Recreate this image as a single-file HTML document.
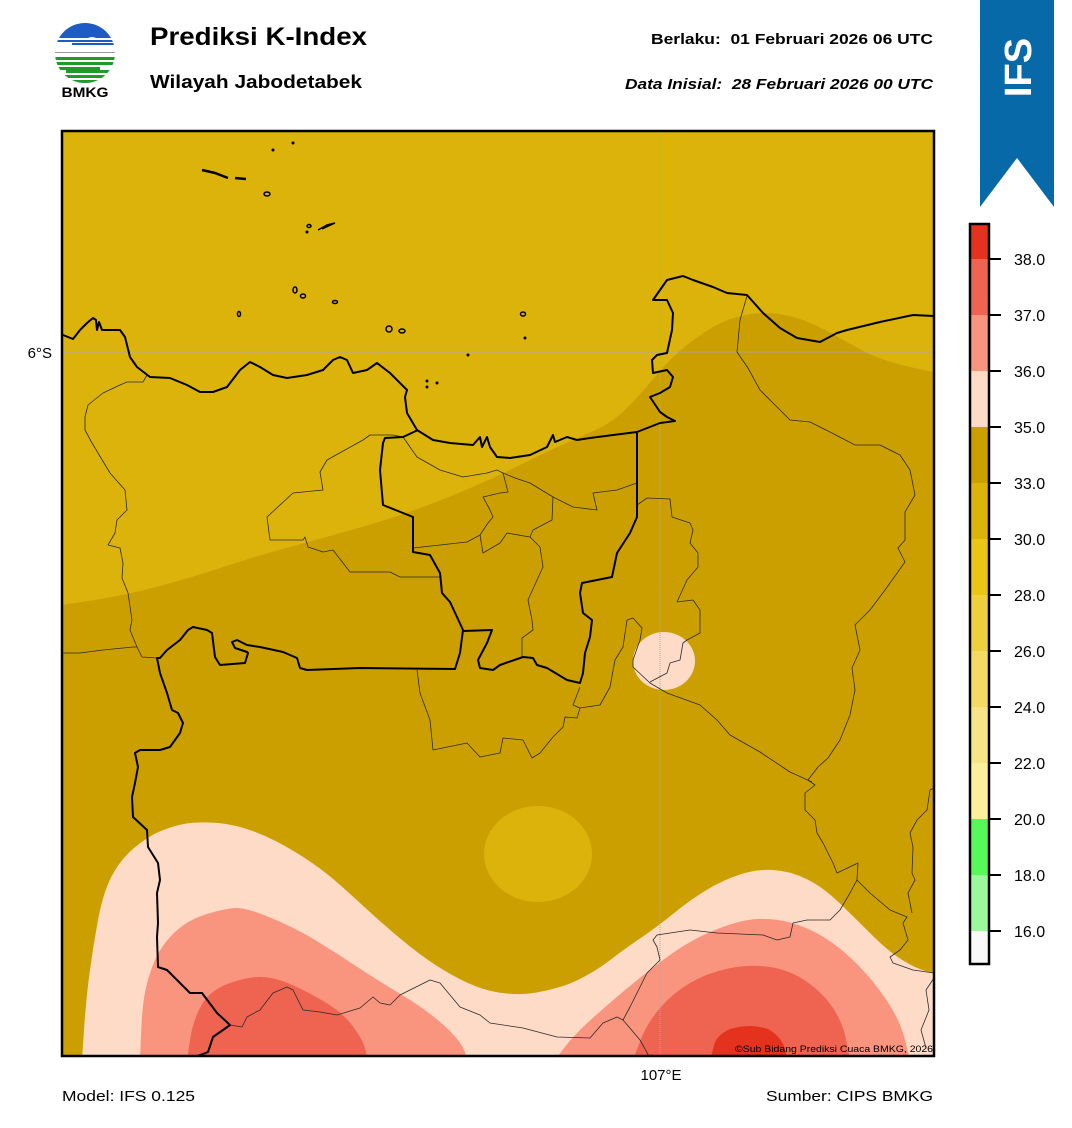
<!DOCTYPE html>
<html><head><meta charset="utf-8"><style>
html,body{margin:0;padding:0;background:#fff;}
svg{display:block;}
text{font-family:"Liberation Sans",Arial,sans-serif;}
</style></head><body>
<svg width="1072" height="1128" viewBox="0 0 1072 1128" xmlns="http://www.w3.org/2000/svg">
<defs>
<clipPath id="map"><rect x="62" y="131" width="872" height="925"/></clipPath>
<clipPath id="logo"><circle cx="85" cy="53" r="30"/></clipPath>
</defs>
<rect width="1072" height="1128" fill="#fff"/>

<!-- Logo -->
<g clip-path="url(#logo)">
<rect x="50" y="20" width="70" height="14" fill="#1f5bc4"/>
<path d="M50,34 H80 Q84,32 88,34 H120 V38 H96 Q92,36 88,38 H50Z" fill="#1f5bc4"/>
<rect x="50" y="40" width="70" height="2" fill="#1f5bc4"/>
<rect x="72" y="43" width="48" height="2" fill="#1f5bc4"/>
<rect x="50" y="52" width="70" height="1" fill="#9a9a9a"/>
<rect x="50" y="57" width="70" height="3" fill="#1e9b2a"/>
<rect x="50" y="62" width="70" height="3" fill="#1e9b2a"/>
<rect x="50" y="67" width="50" height="3" fill="#1e9b2a"/>
<rect x="66" y="70" width="54" height="3" fill="#1e9b2a"/>
<rect x="50" y="75" width="70" height="3" fill="#1e9b2a"/>
<rect x="50" y="80" width="70" height="5" fill="#1e9b2a"/>
</g>
<text x="85" y="97" font-size="14" font-weight="bold" text-anchor="middle" textLength="47" lengthAdjust="spacingAndGlyphs">BMKG</text>

<text x="150" y="45" font-size="25" font-weight="bold" textLength="217" lengthAdjust="spacingAndGlyphs">Prediksi K-Index</text>
<text x="150" y="88" font-size="18" font-weight="bold" textLength="212" lengthAdjust="spacingAndGlyphs">Wilayah Jabodetabek</text>
<text x="933" y="44" font-size="14.5" font-weight="bold" text-anchor="end" textLength="282" lengthAdjust="spacingAndGlyphs" xml:space="preserve">Berlaku:  01 Februari 2026 06 UTC</text>
<text x="933" y="89" font-size="14.5" font-weight="bold" font-style="italic" text-anchor="end" textLength="308" lengthAdjust="spacingAndGlyphs" xml:space="preserve">Data Inisial:  28 Februari 2026 00 UTC</text>

<!-- IFS banner -->
<polygon points="980,0 1054,0 1054,207 1017,158 980,207" fill="#0769a8"/>
<text transform="translate(1031,67.5) rotate(-90)" font-size="38" font-weight="bold" fill="#fff" text-anchor="middle">IFS</text>

<!-- Map -->
<g clip-path="url(#map)">
<rect x="62" y="131" width="872" height="925" fill="#cc9f00"/>
<path d="M62,131 H934 V372 L917,368.5 Q900,365 885,360 Q870,355 855,346.5 Q840,338 825,330 Q810,322 795,317.5 Q780,313 765,313 Q750,313 735,317.5 Q720,322 705,332 Q690,342 678.5,352 Q667,362 653.5,378.5 Q640,395 626.5,408.5 Q613,422 596.5,429.5 Q580,437 565,443.5 Q550,450 525,462.5 Q500,475 475,486 Q450,497 421.5,507.5 Q393,518 360,527.5 Q327,537 293.5,546 Q260,555 226.5,566 Q193,577 160,586 Q127,595 94.5,600 L62,605 Z" fill="#dbb30b"/>
<ellipse cx="538" cy="854" rx="54" ry="48" fill="#dbb30b"/>
<path d="M82,1060 L84,1030 Q86,1000 89.5,973.5 Q93,947 98,920 Q103,893 111.5,876.5 Q120,860 133.5,848.5 Q147,837 158.5,832 Q170,827 181.5,824.5 Q193,822 210,822.5 Q227,823 243.5,828 Q260,833 276.5,841.5 Q293,850 310,861.5 Q327,873 343.5,888 Q360,903 376.5,918 Q393,933 410,946.5 Q427,960 443.5,970 Q460,980 475,986 Q490,992 506.5,993.5 Q523,995 536.5,992.5 Q550,990 561.5,986.5 Q573,983 586.5,975.5 Q600,968 611.5,959 Q623,950 640,938.5 Q657,927 673.5,913.5 Q690,900 706.5,890 Q723,880 740,874.5 Q757,869 773.5,870 Q790,871 806.5,879 Q823,887 840,903.5 Q857,920 873.5,936.5 Q890,953 906.5,962.5 Q923,972 936,973 L936,1060 Z" fill="#fddbc7"/>
<path d="M140,1060 L141,1035 Q142,1010 144.5,995 Q147,980 153.5,963.5 Q160,947 173.5,933.5 Q187,920 207,914 Q227,908 237,908 Q247,908 270,917.5 Q293,927 310,937 Q327,947 352,963.5 Q377,980 402,995 Q427,1010 443.5,1025 Q460,1040 464,1050 L468,1060 Z" fill="#f9947f"/>
<path d="M555,1060 L562.5,1050 Q570,1040 580,1030 Q590,1020 615,998.5 Q640,977 665,958.5 Q690,940 715,930 Q740,920 756.5,919 Q773,918 790,922.5 Q807,927 823.5,937 Q840,947 856.5,963.5 Q873,980 886.5,1000 Q900,1020 905,1040 L910,1060 Z" fill="#f9947f"/>
<path d="M187,1060 L190,1040 Q193,1020 201.5,1005 Q210,990 230,983 Q250,976 263.5,977 Q277,978 293.5,985.5 Q310,993 326.5,1003 Q343,1013 353,1026.5 Q363,1040 365.5,1050 L368,1060 Z" fill="#ef6451"/>
<path d="M633,1060 L640,1041.5 Q647,1023 660,1008 Q673,993 690,983 Q707,973 728.5,968.5 Q750,964 770,967 Q790,970 806.5,981.5 Q823,993 833,1008 Q843,1023 846.5,1041.5 L850,1060 Z" fill="#ef6451"/>
<path d="M710,1060 L715,1042 Q719,1034 730,1029 Q750,1023 768,1029 Q780,1036 784,1046 L788,1060 Z" fill="#e5321f"/>
<ellipse cx="664" cy="661" rx="31" ry="29" fill="#fddbc7"/>

<!-- grid -->
<line x1="660" y1="131" x2="660" y2="1056" stroke="#aaa" stroke-width="1" stroke-dasharray="1,1"/>
<line x1="62" y1="352" x2="934" y2="352" stroke="#aaa" stroke-width="1" stroke-dasharray="1,1"/>

<!-- thin boundaries -->
<g fill="none" stroke="#2a2a2a" stroke-width="0.8" stroke-linejoin="round">
<path d="M147,375 L143,382 L127,382 L120,385 L103,393 L88,405 L85,417 L85,430 L92,443 L110,473 L125,490 L127,510 L117,520 L115,533 L108,545 L120,548 L123,563 L122,578 L128,593 L132,620 L130,630 L137,647 L142,657 L157,658"/>
<path d="M62,653 L80,653 L103,650 L133,647 L137,647"/>
<path d="M403,437 L393,435 L370,435 L363,440 L327,460 L320,472 L323,490 L293,493 L267,517 L270,540 L303,540 L305,537 L308,547 L323,552 L333,550 L350,572 L390,572 L400,577 L440,577"/>
<path d="M403,437 L417,457 L440,470 L463,477 L487,473 L497,470 L503,473 L508,492 L500,493 L483,497 L490,510 L493,517 L488,523 L480,535 L467,542 L413,548"/>
<path d="M480,535 L483,553 L500,543 L507,533 L530,537 L540,547 L543,567 L537,580 L528,600 L532,620 L533,630 L522,638 L522,657"/>
<path d="M503,473 L515,478 L530,483 L553,497 L573,507 L597,510 L593,493 L617,490 L637,483"/>
<path d="M553,497 L552,520 L533,530 L530,537"/>
<path d="M417,670 L420,693 L430,720 L433,750 L467,743 L480,757 L500,753 L503,738 L523,740 L532,758 L540,753 L553,737 L563,727 L565,717 L577,718 L580,708 L573,705 L580,687"/>
<path d="M580,708 L600,705 L610,687 L615,660 L623,647 L627,620 L633,618 L642,628 L640,640 L633,660 L633,667 L650,683 L667,693 L700,705 L717,720 L730,735 L760,752 L790,772 L812,782"/>
<path d="M637,505 L647,498 L670,499 L672,517 L690,523 L693,530 L690,543 L698,553 L698,567 L687,580 L677,602 L693,600 L700,610 L700,633 L687,640 L683,643 L680,660 L670,663 L667,673 L650,682"/>
<path d="M747,296 L740,320 L737,352 L748,368 L760,390 L775,405 L790,420 L810,422 L830,432 L855,445 L880,445 L900,455 L910,470 L915,495 L905,512 L905,540 L898,548 L905,562 L885,590 L870,610 L855,625 L860,650 L852,668 L855,690 L850,715 L840,740 L828,758 L818,767 L808,780 L815,785 L805,793 L805,810 L815,820 L817,833 L823,843 L833,863 L837,873 L858,863 L857,880 L850,893 L840,910 L830,920 L807,920 L793,923 L790,937 L777,940 L763,935 L717,933 L690,930 L657,935 L653,940 L657,947 L660,960 L647,973 L630,1007 L623,1020"/>
<path d="M857,880 L870,893 L890,910 L907,917 L903,923 L908,940 L900,950 L890,957 L893,963 L913,970 L934,973"/>
<path d="M934,788 L930,790 L927,810 L917,820 L910,833 L913,847 L912,873 L915,880 L908,893 L912,913"/>
<path d="M230,1025 L242,1027 L247,1017 L260,1010 L273,993 L287,987 L293,990 L303,1010 L320,1012 L337,1015 L360,1008 L373,997 L380,1003 L390,1005 L400,995 L430,980 L440,983 L460,1007 L480,1015 L490,1023 L523,1028 L557,1037 L590,1038 L603,1023 L617,1017 L623,1020 L640,1040 L650,1058"/>
<path d="M934,978 L926,990 L929,1010 L921,1030 L926,1048"/>
</g>

<!-- thick boundaries & coast -->
<g fill="none" stroke="#000" stroke-width="2" stroke-linejoin="round">
<path d="M63,335 L73,339 L80,330 L87,323 L93,318 L96,320 L97,330 L99,322 L102,330 L107,330 L120,330 L125,337 L130,357 L137,367 L150,377 L170,378 L187,385 L200,392 L213,392 L227,387 L240,370 L250,362 L260,367 L273,375 L287,378 L307,375 L323,370 L333,360 L340,357 L347,360 L353,373 L367,370 L377,363 L390,373 L407,390 L405,397 L407,413 L417,430 L433,440 L450,443 L473,445 L480,437 L482,447 L487,437 L490,447 L497,457 L510,458 L530,455 L547,447 L553,435 L555,442 L567,437 L577,440 L590,438 L613,435 L637,432 L660,423 L675,421 L667,417 L660,412 L650,397 L660,393 L670,387 L673,377 L667,370 L653,373 L652,360 L657,355 L667,353 L672,330 L673,313 L667,300 L653,300 L660,290 L667,280 L683,276 L693,280 L713,287 L727,293 L747,295 L763,313 L780,328 L797,338 L820,342 L837,333 L847,330 L880,322 L913,315 L934,316"/>
<path d="M418,430 L403,437 L385,438 L383,443 L380,470 L383,505 L413,517 L413,530 L413,552 L430,555 L440,573 L442,593 L450,602 L457,617 L463,630 L460,653 L455,669 L360,668 L307,670 L300,668 L297,658 L283,652 L260,647 L247,645 L237,640 L232,642 L235,648 L247,652 L248,653 L245,663 L220,665 L215,657 L212,633 L207,630 L193,627 L188,630 L180,640 L167,650 L160,658 L157,658 L160,673 L167,693 L172,710 L178,713 L183,723 L180,733 L170,747 L160,750 L140,750 L135,753 L138,767 L135,783 L132,797 L133,817 L147,830 L148,847 L158,863 L160,880 L157,893 L158,923 L157,937 L158,967 L167,970 L190,993 L202,993 L217,1013 L230,1025 L223,1030 L213,1037 L208,1052 L195,1057"/>
<path d="M463,631 L492,630 L487,643 L478,660 L480,668 L493,670 L500,665 L523,657 L533,658 L537,665 L547,668 L567,680 L580,683 L583,673 L585,653 L590,637 L592,620 L583,613 L580,593 L582,583 L612,577 L617,553 L630,533 L637,517 L637,433"/>
</g>
<!-- islands -->
<g fill="none" stroke="#000" stroke-width="1.5">
<path d="M202,170 L215,173 L228,178" stroke-width="2.5"/>
<path d="M235,178 L246,179" stroke-width="2.5"/>
<ellipse cx="267" cy="194" rx="3" ry="2"/>
<ellipse cx="309" cy="226" rx="2" ry="1.5"/>
<path d="M318,230 L327,225 L335,223 L322,229"/>
<ellipse cx="295" cy="290" rx="2" ry="3"/>
<ellipse cx="303" cy="296" rx="2.5" ry="2"/>
<ellipse cx="335" cy="302" rx="2.5" ry="1.5"/>
<ellipse cx="239" cy="314" rx="1.5" ry="2.5"/>
<ellipse cx="389" cy="329" rx="3" ry="3"/>
<ellipse cx="402" cy="331" rx="3" ry="2"/>
<ellipse cx="523" cy="314" rx="2.5" ry="2"/>
</g>
<g fill="#000">
<circle cx="293" cy="143" r="1.5"/>
<circle cx="273" cy="150" r="1.5"/>
<circle cx="307" cy="232" r="1.5"/>
<circle cx="468" cy="355" r="1.5"/>
<circle cx="427" cy="381" r="1.5"/>
<circle cx="427" cy="387" r="1.5"/>
<circle cx="437" cy="383" r="1.5"/>
<circle cx="525" cy="338" r="1.5"/>
</g>
<text x="933" y="1052" font-size="9" text-anchor="end" textLength="198" lengthAdjust="spacingAndGlyphs">©Sub Bidang Prediksi Cuaca BMKG, 2026</text>
</g>
<rect x="62" y="131" width="872" height="925" fill="none" stroke="#000" stroke-width="2.5"/>

<!-- axis labels -->
<text x="52" y="358" font-size="15" text-anchor="end">6°S</text>
<text x="661" y="1080" font-size="15" text-anchor="middle">107°E</text>
<text x="62" y="1101" font-size="15" textLength="133" lengthAdjust="spacingAndGlyphs">Model: IFS 0.125</text>
<text x="933" y="1101" font-size="15" text-anchor="end" textLength="167" lengthAdjust="spacingAndGlyphs">Sumber: CIPS BMKG</text>

<!-- Colorbar -->
<g>
<rect x="970" y="224" width="19" height="35" fill="#e5321f"/>
<rect x="970" y="259" width="19" height="56" fill="#ef6451"/>
<rect x="970" y="315" width="19" height="56" fill="#f9947f"/>
<rect x="970" y="371" width="19" height="56" fill="#fddbc7"/>
<rect x="970" y="427" width="19" height="56" fill="#cc9f00"/>
<rect x="970" y="483" width="19" height="56" fill="#dbb30b"/>
<rect x="970" y="539" width="19" height="56" fill="#e9c616"/>
<rect x="970" y="595" width="19" height="56" fill="#eed03f"/>
<rect x="970" y="651" width="19" height="56" fill="#f3da64"/>
<rect x="970" y="707" width="19" height="56" fill="#f7e487"/>
<rect x="970" y="763" width="19" height="56" fill="#fcef9b"/>
<rect x="970" y="819" width="19" height="56" fill="#57f95a"/>
<rect x="970" y="875" width="19" height="56" fill="#9afa9a"/>
<rect x="970" y="931" width="19" height="33" fill="#f9f9f9"/>
<rect x="970" y="224" width="19" height="740" fill="none" stroke="#000" stroke-width="2.5"/>
<g stroke="#000" stroke-width="2">
<line x1="990" y1="259" x2="1001" y2="259"/>
<line x1="990" y1="315" x2="1001" y2="315"/>
<line x1="990" y1="371" x2="1001" y2="371"/>
<line x1="990" y1="427" x2="1001" y2="427"/>
<line x1="990" y1="483" x2="1001" y2="483"/>
<line x1="990" y1="539" x2="1001" y2="539"/>
<line x1="990" y1="595" x2="1001" y2="595"/>
<line x1="990" y1="651" x2="1001" y2="651"/>
<line x1="990" y1="707" x2="1001" y2="707"/>
<line x1="990" y1="763" x2="1001" y2="763"/>
<line x1="990" y1="819" x2="1001" y2="819"/>
<line x1="990" y1="875" x2="1001" y2="875"/>
<line x1="990" y1="931" x2="1001" y2="931"/>
</g>
<g font-size="16">
<text x="1014" y="265">38.0</text>
<text x="1014" y="321">37.0</text>
<text x="1014" y="377">36.0</text>
<text x="1014" y="433">35.0</text>
<text x="1014" y="489">33.0</text>
<text x="1014" y="545">30.0</text>
<text x="1014" y="601">28.0</text>
<text x="1014" y="657">26.0</text>
<text x="1014" y="713">24.0</text>
<text x="1014" y="769">22.0</text>
<text x="1014" y="825">20.0</text>
<text x="1014" y="881">18.0</text>
<text x="1014" y="937">16.0</text>
</g>
</g>
</svg>
</body></html>
